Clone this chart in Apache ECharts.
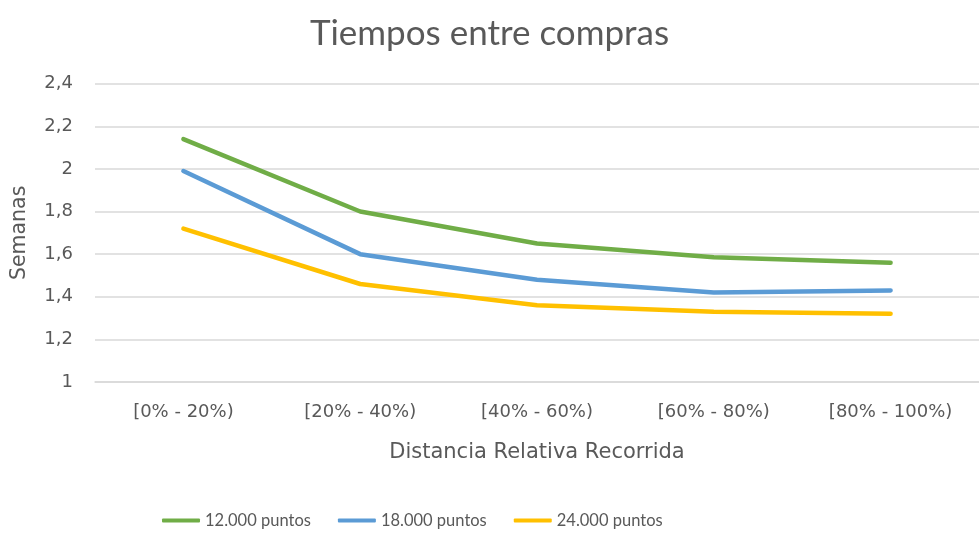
<!DOCTYPE html>
<html>
<head>
<meta charset="utf-8">
<script src="https://cdn.jsdelivr.net/npm/echarts@6/dist/echarts.min.js"></script>
<style>
  html, body { margin: 0; padding: 0; background: #fff; }
  #chart { width: 979px; height: 533px; }
</style>
</head>
<body>
<div id="chart"></div>
<script>
// Distance buckets along the route
const categories = ['[0% - 20%)', '[20% - 40%)', '[40% - 60%)', '[60% - 80%)', '[80% - 100%)'];

// Weeks between purchases per points threshold
const puntos12000 = [2.14, 1.80, 1.65, 1.585, 1.56];
const puntos18000 = [1.99, 1.60, 1.48, 1.42, 1.43];
const puntos24000 = [1.72, 1.46, 1.36, 1.33, 1.32];

const seriesNames = ['12.000 puntos', '18.000 puntos', '24.000 puntos'];
const seriesColors = ['#70AD47', '#5B9BD5', '#FFC000'];

const WIDE = 'DejaVu Sans';
const NARROW = 'Lato';
const TEXT = '#595959';
const GRID = '#D9D9D9';

const chart = echarts.init(document.getElementById('chart'), null, { renderer: 'canvas' });

const makeLine = (name, data, color) => ({
  name,
  type: 'line',
  data,
  symbol: 'none',
  smooth: false,
  lineStyle: { color, width: 4.5, cap: 'round', join: 'round' },
  itemStyle: { color }
});

chart.setOption({
  animation: false,
  backgroundColor: '#fff',
  title: {
    text: 'Tiempos entre compras',
    left: 'center',
    top: 11,
    textStyle: { fontFamily: NARROW, fontSize: 35, fontWeight: 'normal', color: TEXT }
  },
  legend: {
    top: 507,
    left: 157,
    itemWidth: 38,
    itemHeight: 4,
    itemGap: 27,
    icon: 'roundRect',
    textStyle: { fontFamily: NARROW, fontSize: 16.5, color: TEXT },
    data: seriesNames
  },
  grid: { left: 95, top: 83.7, width: 898, height: 298.3, containLabel: false },
  xAxis: {
    type: 'category',
    data: categories,
    boundaryGap: true,
    name: 'Distancia Relativa Recorrida',
    nameLocation: 'middle',
    nameGap: 60,
    nameTextStyle: { fontFamily: WIDE, fontSize: 21, color: TEXT },
    axisLine: { show: true, lineStyle: { color: GRID, width: 1.5 } },
    axisTick: { show: false },
    axisLabel: { fontFamily: WIDE, fontSize: 18, color: TEXT, margin: 21 }
  },
  yAxis: {
    type: 'value',
    min: 1,
    max: 2.4,
    interval: 0.2,
    name: 'Semanas',
    nameLocation: 'middle',
    nameGap: 65,
    nameTextStyle: { fontFamily: WIDE, fontSize: 20.5, color: TEXT },
    axisLine: { show: false },
    axisTick: { show: false },
    splitLine: { lineStyle: { color: GRID, width: 1.5 } },
    axisLabel: {
      fontFamily: WIDE, fontSize: 18, color: TEXT, margin: 22,
      formatter: v => String(Math.round(v * 10) / 10).replace('.', ',')
    }
  },
  series: [
    makeLine(seriesNames[0], puntos12000, seriesColors[0]),
    makeLine(seriesNames[1], puntos18000, seriesColors[1]),
    makeLine(seriesNames[2], puntos24000, seriesColors[2])
  ]
});
</script>
</body>
</html>
